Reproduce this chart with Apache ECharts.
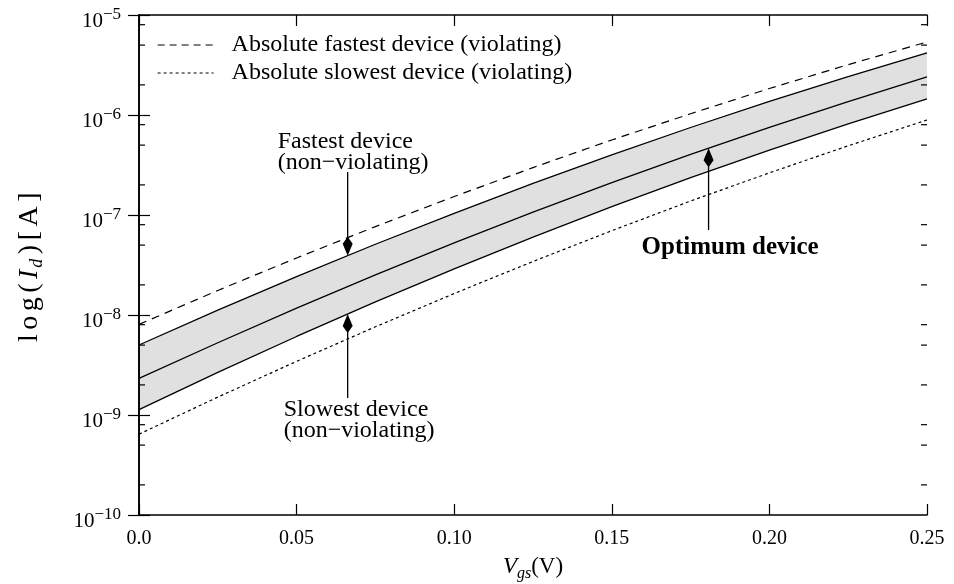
<!DOCTYPE html>
<html><head><meta charset="utf-8">
<script src="https://cdn.jsdelivr.net/npm/echarts@6/dist/echarts.min.js"></script>
<style>html,body{margin:0;padding:0;background:#fff}#c{width:954px;height:584px}</style>
</head><body><div id="c"></div>
<script>
// ---- data ----
const vgs        = [0, 0.025, 0.05, 0.075, 0.1, 0.125, 0.15, 0.175, 0.2, 0.225, 0.25];
const absFastest = [8.05e-9, 1.76e-8, 3.72e-8, 7.66e-8, 1.53e-7, 2.98e-7, 5.63e-7, 1.03e-6, 1.84e-6, 3.19e-6, 5.37e-6];
const fastest    = [5.01e-9, 1.12e-8, 2.42e-8, 5.10e-8, 1.04e-7, 2.07e-7, 4.00e-7, 7.50e-7, 1.37e-6, 2.42e-6, 4.17e-6];
const optimum    = [2.32e-9, 5.28e-9, 1.17e-8, 2.52e-8, 5.26e-8, 1.07e-7, 2.11e-7, 4.04e-7, 7.53e-7, 1.36e-6, 2.40e-6];
const slowest    = [1.13e-9, 2.67e-9, 6.10e-9, 1.35e-8, 2.89e-8, 6.01e-8, 1.21e-7, 2.36e-7, 4.46e-7, 8.15e-7, 1.45e-6];
const absSlowest = [6.43e-10, 1.51e-9, 3.44e-9, 7.62e-9, 1.64e-8, 3.43e-8, 6.97e-8, 1.38e-7, 2.64e-7, 4.92e-7, 8.91e-7];
const xTickLabels = ['0.0', '0.05', '0.10', '0.15', '0.20', '0.25'];
const yExponents = [-10, -9, -8, -7, -6, -5];
const minorMantissas = [2, 5, 8];
const legendNames = ['Absolute fastest device (violating)', 'Absolute slowest device (violating)'];
const annoText = ['Fastest device\n(non\u2212violating)', 'Slowest device\n(non\u2212violating)', 'Optimum device'];
const annoX = [0.0662, 0.0662, 0.1807];
const annoTail = [2.69e-7, 1.48e-9, 7.08e-8];
// ----------------------------------------

const FONT = '"Liberation Serif", "Times New Roman", serif';
const annoTarget = [fastest, slowest, optimum];
function interpLog(xs, ys, x) {
  for (let i = 0; i < xs.length - 1; i++) {
    if (x >= xs[i] && x <= xs[i + 1]) {
      const f = (x - xs[i]) / (xs[i + 1] - xs[i]);
      return Math.pow(10, Math.log10(ys[i]) + f * (Math.log10(ys[i + 1]) - Math.log10(ys[i])));
    }
  }
  return ys[ys.length - 1];
}
const annoTip = annoX.map((x, i) => interpLog(vgs, annoTarget[i], x));
const minorVals = [];
yExponents.slice(0, -1).forEach(e => minorMantissas.forEach(m => minorVals.push(m * Math.pow(10, e))));

const pairs = arr => vgs.map((v, i) => [v, arr[i]]);
const chart = echarts.init(document.getElementById('c'));

const axisCommon = {
  axisLine: { show: true, lineStyle: { color: '#000', width: 1.6 } },
  axisTick: { show: true, inside: true, length: 11, lineStyle: { color: '#000', width: 1.2 } },
  splitLine: { show: false },
  z: 10
};

const yName = ['l', 'o', 'g', '('].map(c => '{n|' + c + '}').join('') + '{i|I}{s|d}' +
  [')', '[', 'A', ']'].map(c => '{n|' + c + '}').join('');

const opt = {
  animation: false,
  backgroundColor: '#fff',
  textStyle: { fontFamily: FONT, color: '#000' },
  grid: { left: 139, right: 27, top: 15, bottom: 69, containLabel: false, outerBoundsMode: 'none' },
  legend: {
    data: [
      { name: legendNames[0], lineStyle: { type: [7, 5], width: 1.2, color: '#000' } },
      { name: legendNames[1], lineStyle: { type: [3, 3], width: 1.2, color: '#000' } }
    ],
    orient: 'vertical',
    left: 152, top: 28,
    itemWidth: 56, itemHeight: 14, itemGap: 4,
    itemStyle: { opacity: 0, borderWidth: 0, color: 'transparent' },
    textStyle: { fontFamily: FONT, fontSize: 24, color: '#000', lineHeight: 24, padding: [0, 0, 0, 13] }
  },
  xAxis: [
    Object.assign({}, axisCommon, {
      type: 'value', min: 0, max: 0.25, interval: 0.05, position: 'bottom',
      axisLabel: { fontFamily: FONT, fontSize: 20, color: '#000', margin: 14,
        formatter: v => xTickLabels[Math.round(v / 0.05)] },
      name: '{i|V}{s|gs}{n|(V)}', nameLocation: 'middle', nameGap: 37,
      nameTextStyle: { rich: {
        i: { fontFamily: FONT, fontSize: 23, fontStyle: 'italic', lineHeight: 30, color: '#000' },
        s: { fontFamily: FONT, fontSize: 16, fontStyle: 'italic', lineHeight: 16, verticalAlign: 'bottom', color: '#000' },
        n: { fontFamily: FONT, fontSize: 23, lineHeight: 30, color: '#000' } } }
    }),
    Object.assign({}, axisCommon, {
      type: 'value', min: 0, max: 0.25, interval: 0.05, position: 'top',
      axisLabel: { show: false }
    })
  ],
  yAxis: [
    Object.assign({}, axisCommon, {
      type: 'log', logBase: 10, min: 1e-10, max: 1e-5, position: 'left',
      axisLabel: { margin: 18, padding: [8, 0, 0, 0],
        formatter: v => '{b|10}{s|\u2212' + Math.abs(Math.round(Math.log10(v))) + '}',
        rich: {
          b: { fontFamily: FONT, fontSize: 21, lineHeight: 26, verticalAlign: 'bottom', color: '#000' },
          s: { fontFamily: FONT, fontSize: 17, lineHeight: 17, verticalAlign: 'top', color: '#000' } } },
      name: yName, nameLocation: 'middle', nameGap: 93,
      nameTextStyle: { rich: {
        n: { fontFamily: FONT, fontSize: 28, lineHeight: 32, color: '#000', padding: [0, 4.5, 0, 0] },
        i: { fontFamily: FONT, fontSize: 28, fontStyle: 'italic', lineHeight: 32, color: '#000', padding: [0, 2, 0, 0] },
        s: { fontFamily: FONT, fontSize: 18, fontStyle: 'italic', lineHeight: 18, verticalAlign: 'bottom', color: '#000', padding: [0, 4.5, 0, 0] } } }
    }),
    Object.assign({}, axisCommon, {
      type: 'log', logBase: 10, min: 1e-10, max: 1e-5, position: 'right',
      axisLabel: { show: false }
    })
  ],
  series: [
    { // grey band
      type: 'custom', silent: true, z: 1,
      data: [[0, fastest[0]]],
      renderItem: (params, api) => {
        const pts = [];
        for (let i = 0; i < vgs.length; i++) pts.push(api.coord([vgs[i], fastest[i]]));
        for (let i = vgs.length - 1; i >= 0; i--) pts.push(api.coord([vgs[i], slowest[i]]));
        return { type: 'polygon', shape: { points: pts }, style: { fill: '#e0e0e0' } };
      }
    },
    { name: legendNames[0], type: 'line', data: pairs(absFastest), symbol: 'none', z: 3,
      lineStyle: { color: '#000', width: 1.2, type: [8, 6] }, itemStyle: { color: '#000' } },
    { name: legendNames[1], type: 'line', data: pairs(absSlowest), symbol: 'none', z: 3,
      lineStyle: { color: '#000', width: 1.2, type: [3, 3] }, itemStyle: { color: '#000' } },
    { name: 'fastest', type: 'line', data: pairs(fastest), symbol: 'none', z: 3,
      lineStyle: { color: '#000', width: 1.3 } },
    { name: 'optimum', type: 'line', data: pairs(optimum), symbol: 'none', z: 3,
      lineStyle: { color: '#000', width: 1.3 } },
    { name: 'slowest', type: 'line', data: pairs(slowest), symbol: 'none', z: 3,
      lineStyle: { color: '#000', width: 1.3 } },
    { // minor log ticks at 2, 5, 8
      type: 'custom', silent: true, z: 11, clip: false,
      data: minorVals.map(v => [0, v]),
      renderItem: (params, api) => {
        const v = api.value(1);
        const l = api.coord([0, v]), r = api.coord([0.25, v]);
        const st = { stroke: '#000', lineWidth: 1.2 };
        return { type: 'group', children: [
          { type: 'line', shape: { x1: l[0], y1: l[1], x2: l[0] + 6, y2: l[1] }, style: st },
          { type: 'line', shape: { x1: r[0] - 6, y1: r[1], x2: r[0], y2: r[1] }, style: st }
        ] };
      }
    },
    { // annotation arrows + texts
      type: 'custom', silent: true, z: 6, clip: false,
      data: annoX.map((x, i) => [x, annoTip[i], annoTail[i], i]),
      renderItem: (params, api) => {
        const i = api.value(3);
        const tip = api.coord([api.value(0), api.value(1)]);
        const tail = api.coord([api.value(0), api.value(2)]);
        const d = tail[1] > tip[1] ? 1 : -1;
        const tx = tip[0], ty = tip[1];
        const children = [
          { type: 'line', shape: { x1: tx, y1: tail[1], x2: tx, y2: ty + d * 10 }, style: { stroke: '#000', lineWidth: 1.3 } },
          { type: 'polygon', shape: { points: [[tx, ty], [tx + 5, ty + d * 12], [tx, ty + d * 19], [tx - 5, ty + d * 12]] }, style: { fill: '#000' } }
        ];
        let tstyle;
        if (i === 0) tstyle = { x: tx - 70, y: tail[1] + 1, align: 'left', verticalAlign: 'bottom', fontSize: 24, lineHeight: 21 };
        else if (i === 1) tstyle = { x: tx - 64, y: tail[1] + 1, align: 'left', verticalAlign: 'top', fontSize: 24, lineHeight: 21 };
        else tstyle = { x: tx - 67, y: tail[1] + 5, align: 'left', verticalAlign: 'top', fontSize: 25, lineHeight: 25, fontWeight: 'bold' };
        children.push({ type: 'text', style: Object.assign({
          text: annoText[i], fill: '#000', fontFamily: FONT }, tstyle) });
        return { type: 'group', children };
      }
    }
  ]
};
chart.setOption(opt);
</script></body></html>
